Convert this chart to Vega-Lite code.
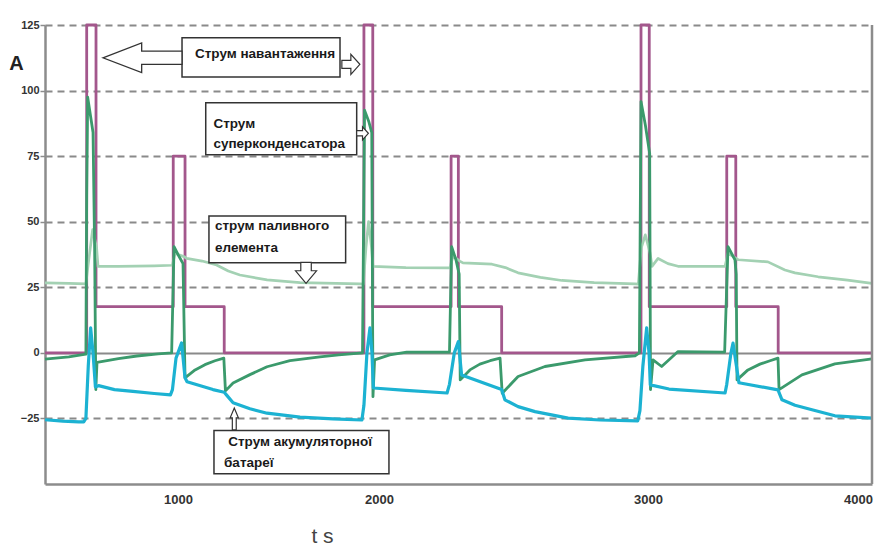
{
  "$schema": "https://vega.github.io/schema/vega-lite/v6.json",
  "width": 827,
  "height": 459,
  "autosize": "none",
  "padding": {"left": 45, "top": 25, "right": 3, "bottom": 61},
  "background": "white",
  "config": {"view": {"stroke": null}, "font": "Liberation Sans"},
  "datasets": {
    "load": [
      {"t":330,"A":0},{"t":540,"A":0},{"t":540,"A":125},{"t":587,"A":125},{"t":587,"A":17.6},{"t":976,"A":17.6},{"t":976,"A":75},{"t":1035,"A":75},{"t":1035,"A":17.6},{"t":1230,"A":17.6},{"t":1230,"A":0},
      {"t":1925,"A":0},{"t":1925,"A":125},{"t":1969,"A":125},{"t":1969,"A":17.6},{"t":2268,"A":17.6},{"t":2268,"A":75},{"t":2295,"A":75},{"t":2295,"A":17.6},{"t":2456,"A":17.6},{"t":2456,"A":0},
      {"t":2974,"A":0},{"t":2974,"A":125},{"t":3006,"A":125},{"t":3006,"A":17.6},{"t":3375,"A":17.6},{"t":3375,"A":75},{"t":3418,"A":75},{"t":3418,"A":17.6},{"t":3620,"A":17.6},{"t":3620,"A":0},{"t":4067,"A":0}
    ],
    "fc": [
      {"t":330,"A":26.7},{"t":450,"A":26.5},{"t":536,"A":26.3},{"t":548,"A":34},{"t":570,"A":47},{"t":590,"A":40},{"t":597,"A":33},{"t":700,"A":33},{"t":880,"A":33.2},{"t":972,"A":33.4},{"t":985,"A":38},{"t":1035,"A":36.5},{"t":1043,"A":36},{"t":1120,"A":35},{"t":1192,"A":33.5},{"t":1250,"A":31.2},{"t":1308,"A":29.7},{"t":1443,"A":27.8},{"t":1607,"A":26.8},{"t":1905,"A":26.3},
      {"t":1922,"A":26.2},{"t":1935,"A":40},{"t":1948,"A":50},{"t":1963,"A":40},{"t":1970,"A":33},{"t":2100,"A":32.5},{"t":2264,"A":32.4},{"t":2275,"A":37},{"t":2300,"A":35},{"t":2312,"A":34.3},{"t":2420,"A":33.8},{"t":2470,"A":32.5},{"t":2517,"A":30.5},{"t":2600,"A":28.8},{"t":2680,"A":27.6},{"t":2800,"A":26.8},{"t":2952,"A":26.3},
      {"t":2964,"A":26.2},{"t":2975,"A":40},{"t":2990,"A":45},{"t":3010,"A":38},{"t":3019,"A":33},{"t":3048,"A":36},{"t":3095,"A":34},{"t":3143,"A":33},{"t":3367,"A":33},{"t":3381,"A":38},{"t":3429,"A":35.5},{"t":3571,"A":34.7},{"t":3652,"A":31.6},{"t":3700,"A":30.5},{"t":3810,"A":29},{"t":3950,"A":27.7},{"t":4067,"A":26.5}
    ],
    "sc": [
      {"t":330,"A":-2.4},{"t":450,"A":-1.5},{"t":536,"A":-0.5},{"t":540,"A":60},{"t":545,"A":97.5},{"t":560,"A":90},{"t":572,"A":84},{"t":580,"A":40},{"t":586,"A":-14},{"t":592,"A":-3.6},{"t":700,"A":-2.2},{"t":793,"A":-1.2},{"t":900,"A":-0.4},{"t":968,"A":0},{"t":980,"A":40.5},{"t":1000,"A":37.5},{"t":1025,"A":34},{"t":1035,"A":-9.5},{"t":1085,"A":-6.5},{"t":1134,"A":-4.5},{"t":1184,"A":-3},{"t":1228,"A":-2},{"t":1236,"A":-14.5},{"t":1274,"A":-11.5},{"t":1358,"A":-8.3},{"t":1443,"A":-5.3},{"t":1557,"A":-3},{"t":1706,"A":-1.5},{"t":1800,"A":-0.8},
      {"t":1918,"A":0},{"t":1928,"A":92.5},{"t":1950,"A":88},{"t":1964,"A":84},{"t":1970,"A":-16.7},{"t":1978,"A":-2.7},{"t":2040,"A":-0.8},{"t":2103,"A":0.3},{"t":2262,"A":0.3},{"t":2270,"A":40.5},{"t":2286,"A":35.5},{"t":2298,"A":30},{"t":2302,"A":-10.3},{"t":2338,"A":-6.5},{"t":2375,"A":-4.3},{"t":2413,"A":-3},{"t":2450,"A":-2},{"t":2458,"A":-15.4},{"t":2517,"A":-9},{"t":2617,"A":-5.2},{"t":2766,"A":-2.7},{"t":2952,"A":-1.1},
      {"t":2968,"A":0},{"t":2974,"A":95.8},{"t":2990,"A":87},{"t":3008,"A":76},{"t":3012,"A":-14},{"t":3024,"A":-2.7},{"t":3065,"A":-5.2},{"t":3095,"A":-3},{"t":3143,"A":0.5},{"t":3365,"A":0.3},{"t":3381,"A":40.5},{"t":3414,"A":35.5},{"t":3420,"A":30},{"t":3424,"A":-10.3},{"t":3476,"A":-6.5},{"t":3533,"A":-4.3},{"t":3581,"A":-3},{"t":3619,"A":-2},{"t":3624,"A":-14},{"t":3733,"A":-8.4},{"t":3890,"A":-4.2},{"t":4067,"A":-2.3}
    ],
    "bat": [
      {"t":330,"A":-25.5},{"t":420,"A":-26},{"t":500,"A":-26.3},{"t":525,"A":-26.3},{"t":536,"A":-25},{"t":548,"A":-5},{"t":560,"A":9.5},{"t":572,"A":0},{"t":584,"A":-13},{"t":600,"A":-12.5},{"t":680,"A":-14},{"t":773,"A":-14.7},{"t":880,"A":-15.5},{"t":962,"A":-16},{"t":972,"A":-14},{"t":990,"A":-2},{"t":1018,"A":3.8},{"t":1035,"A":-9.5},{"t":1045,"A":-11},{"t":1174,"A":-14},{"t":1230,"A":-15},{"t":1244,"A":-16.3},{"t":1274,"A":-19},{"t":1358,"A":-21.3},{"t":1443,"A":-23},{"t":1607,"A":-24.5},{"t":1771,"A":-25.2},{"t":1915,"A":-25.6},
      {"t":1925,"A":-20},{"t":1940,"A":0},{"t":1955,"A":9.5},{"t":1965,"A":0},{"t":1972,"A":-13.4},{"t":2100,"A":-14.3},{"t":2253,"A":-15.3},{"t":2262,"A":-12},{"t":2280,"A":0},{"t":2295,"A":4.3},{"t":2307,"A":-8.4},{"t":2456,"A":-14},{"t":2468,"A":-17.9},{"t":2517,"A":-20.5},{"t":2580,"A":-22.4},{"t":2703,"A":-24.9},{"t":2822,"A":-25.6},{"t":2962,"A":-25.9},
      {"t":2970,"A":-22},{"t":2981,"A":-5},{"t":2995,"A":9.5},{"t":3005,"A":0},{"t":3011,"A":-12.2},{"t":3100,"A":-13.8},{"t":3367,"A":-15.3},{"t":3375,"A":-12},{"t":3395,"A":0},{"t":3405,"A":3.7},{"t":3433,"A":-11.4},{"t":3619,"A":-14.1},{"t":3638,"A":-17.9},{"t":3700,"A":-20},{"t":3781,"A":-21.7},{"t":3890,"A":-24},{"t":4067,"A":-24.9}
    ],
    "boxes": [
      {"t":1020,"t2":1806,"A":105.2,"A2":120.1},
      {"t":1138,"t2":1889,"A":75.5,"A2":95.4},
      {"t":1154,"t2":1834,"A":34.4,"A2":52.2},
      {"t":1179,"t2":2037,"A":-46.1,"A2":-29.6}
    ],
    "notes_center": [
      {"t":1433,"A":112.5,"label":"Струм навантаження"}
    ],
    "notes_left": [
      {"t":1176,"A":85.7,"label":"Струм"},
      {"t":1176,"A":78,"label":"суперконденсатора"},
      {"t":1184,"A":46.9,"label":"струм паливного"},
      {"t":1184,"A":38.6,"label":"елемента"},
      {"t":1250,"A":-35.7,"label":"Струм акумуляторної"},
      {"t":1229,"A":-43.6,"label":"батареї"}
    ]
  },
  "encoding": {
    "x": {
      "field": "t",
      "type": "quantitative",
      "scale": {"domain": [330, 1000, 2000, 3000, 4000, 4067], "range": [0, 133, 334, 603, 813, 827], "nice": false, "zero": false},
      "axis": {
        "values": [1000, 2000, 3000, 4000],
        "format": "d",
        "grid": false,
        "ticks": false,
        "domainColor": "#8c8c8c",
        "domainWidth": 2.5,
        "labelFontWeight": "bold",
        "labelFontSize": 13,
        "labelColor": "#333333",
        "labelPadding": 9,
        "labelFlush": false,
        "labelOverlap": false,
        "title": "t s",
        "titleFontWeight": "normal",
        "titleFontSize": 21,
        "titleColor": "#444444",
        "titleX": 277,
        "titleY": 58,
        "titleAlign": "center",
        "titleBaseline": "alphabetic"
      }
    },
    "y": {
      "field": "A",
      "type": "quantitative",
      "scale": {"domain": [-50, 125], "nice": false, "zero": false},
      "axis": {
        "values": [-25, 0, 25, 50, 75, 100, 125],
        "grid": true,
        "gridColor": "#8a8a8a",
        "gridWidth": 2,
        "gridDash": {"condition": {"test": "datum.value === 0", "value": []}, "value": [7, 5]},
        "domainColor": "#8c8c8c",
        "domainWidth": 2.5,
        "tickColor": "#8c8c8c",
        "tickSize": 5,
        "tickWidth": 1.5,
        "labelFontWeight": "bold",
        "labelFontSize": 11,
        "labelColor": "#333333",
        "labelPadding": 1,
        "title": "A",
        "titleAngle": 0,
        "titleFontSize": 20,
        "titleFontWeight": "bold",
        "titleColor": "#222222",
        "titleX": -29,
        "titleY": 38,
        "titleAlign": "center",
        "titleBaseline": "middle"
      }
    }
  },
  "layer": [
    {"data": {"name": "load"}, "mark": {"type": "line", "color": "#a3578c", "strokeWidth": 2.8, "strokeJoin": "round"}},
    {"data": {"name": "fc"}, "mark": {"type": "line", "color": "#a3d1b3", "strokeWidth": 2.7, "strokeJoin": "round"}},
    {"data": {"name": "sc"}, "mark": {"type": "line", "color": "#3b9a6c", "strokeWidth": 2.8, "strokeJoin": "round"}},
    {"data": {"name": "bat"}, "mark": {"type": "line", "color": "#1cb2d2", "strokeWidth": 3.2, "strokeJoin": "round"}},
    {
      "data": {"values": [{"t": 4067, "A": -50, "A2": 125}]},
      "mark": {"type": "rule", "color": "#8c8c8c", "strokeWidth": 2.5},
      "encoding": {"y2": {"field": "A2"}}
    },
    {
      "data": {"name": "boxes"},
      "mark": {"type": "rect", "fill": "white", "stroke": "#333333", "strokeWidth": 1.5},
      "encoding": {"x2": {"field": "t2"}, "y2": {"field": "A2"}}
    },
    {
      "data": {"name": "notes_center"},
      "mark": {"type": "text", "align": "center", "baseline": "alphabetic", "fontSize": 13.5, "fontWeight": "bold", "color": "#1a1a1a"},
      "encoding": {"text": {"field": "label"}}
    },
    {
      "data": {"name": "notes_left"},
      "mark": {"type": "text", "align": "left", "baseline": "alphabetic", "fontSize": 13.5, "fontWeight": "bold", "color": "#1a1a1a"},
      "encoding": {"text": {"field": "label"}}
    },
    {
      "data": {"values": [{"t": 821, "A": 112.5}]},
      "mark": {"type": "point", "shape": "M -1 0 L -0.02 -0.376 L -0.02 -0.168 L 1 -0.168 L 1 0.168 L -0.02 0.168 L -0.02 0.376 Z", "size": 6241, "filled": true, "fill": "white", "stroke": "#333333", "strokeWidth": 1.3, "opacity": 1}
    },
    {
      "data": {"values": [{"t": 1860, "A": 110}]},
      "mark": {"type": "point", "shape": "M -0.9 -0.4 L 0 -0.4 L 0 -1 L 0.9 0 L 0 1 L 0 0.4 L -0.9 0.4 Z", "size": 400, "filled": true, "fill": "white", "stroke": "#333333", "strokeWidth": 1.2, "opacity": 1}
    },
    {
      "data": {"values": [{"t": 1918, "A": 83.7}]},
      "mark": {"type": "point", "shape": "M -0.9 -0.4 L 0 -0.4 L 0 -1 L 0.9 0 L 0 1 L 0 0.4 L -0.9 0.4 Z", "size": 169, "filled": true, "fill": "white", "stroke": "#333333", "strokeWidth": 1.2, "opacity": 1}
    },
    {
      "data": {"values": [{"t": 1637, "A": 30.5}]},
      "mark": {"type": "point", "shape": "M -0.5 -1 L 0.5 -1 L 0.5 -0.2 L 1 -0.2 L 0 1 L -1 -0.2 L -0.5 -0.2 Z", "size": 441, "filled": true, "fill": "white", "stroke": "#333333", "strokeWidth": 1.2, "opacity": 1}
    },
    {
      "data": {"values": [{"t": 1280, "A": -25.2}]},
      "mark": {"type": "point", "shape": "M 0 -1 L 0.38 -0.1 L 0.18 -0.1 L 0.18 1 L -0.18 1 L -0.18 -0.1 L -0.38 -0.1 Z", "size": 471, "filled": true, "fill": "white", "stroke": "#333333", "strokeWidth": 1.2, "opacity": 1}
    }
  ]
}
